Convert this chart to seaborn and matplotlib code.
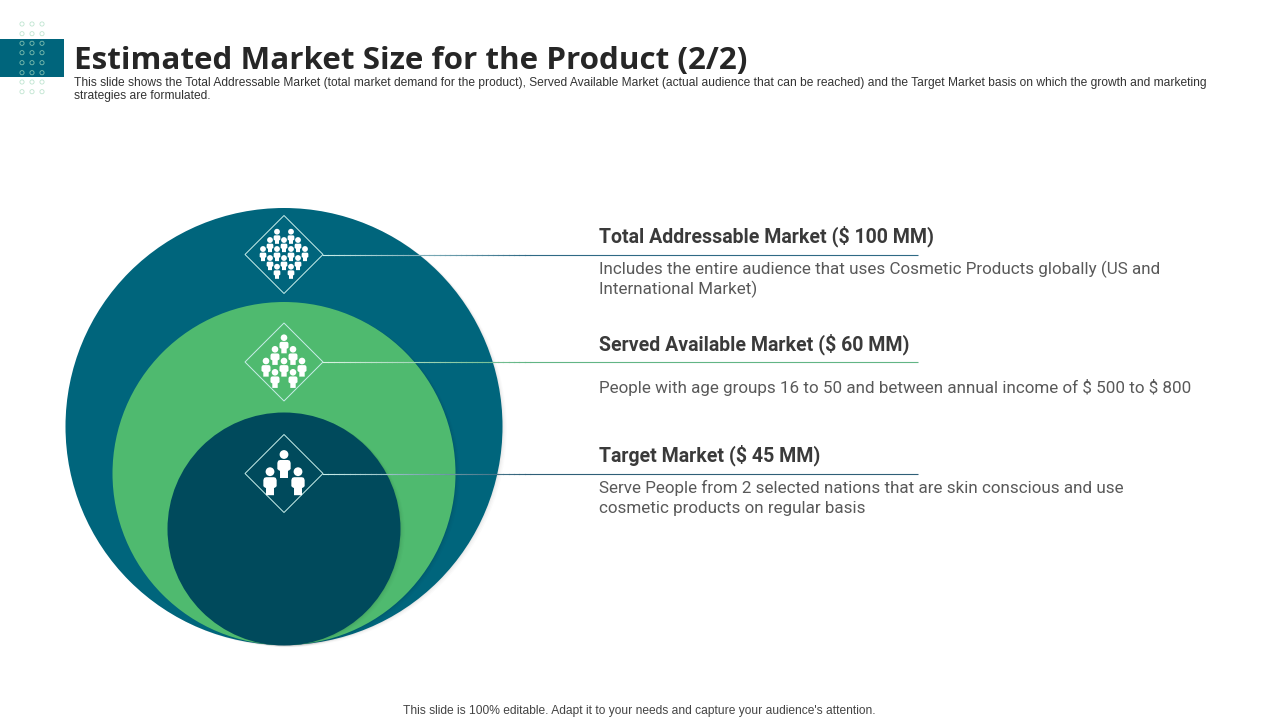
import matplotlib
matplotlib.use("Agg")
import matplotlib.pyplot as plt
from matplotlib.collections import LineCollection
from matplotlib.colors import to_rgb
from matplotlib.patches import Circle, Polygon, Rectangle
import numpy as np
import pandas as pd
import seaborn as sns

# ---- content ----
title_text = "Estimated Market Size for the Product (2/2)"
subtitle_lines = [
    "This slide shows the Total Addressable Market (total market demand for the product), Served Available Market (actual audience that can be reached) and the Target Market basis on which the growth and marketing",
    "strategies are formulated.",
]
footer_text = "This slide is 100% editable. Adapt it to your needs and capture your audience's attention."
market_names = ["Total Addressable Market", "Served Available Market", "Target Market"]
market_values = [100, 60, 45]
market_desc = [
    ["Includes the entire audience that uses Cosmetic Products globally (US and", "International Market)"],
    [r"People with age groups 16 to 50 and between annual income of \$ 500 to \$ 800"],
    ["Serve People from 2 selected nations that are skin conscious and use", "cosmetic products on regular basis"],
]

# ---- style ----
TEAL = "#00657c"
GREEN = "#4fba6f"
DARK = "#004a5c"
TEXT_DARK = "#262626"
TEXT_HEAD = "#3a3a3a"
TEXT_BODY = "#595959"

sns.set_theme(style="white")
plt.rcParams["font.family"] = ["Liberation Sans", "DejaVu Sans"]

fig = plt.figure(figsize=(12.8, 7.2), dpi=100, facecolor="white")
ax = fig.add_axes([0, 0, 1, 1])

# header decoration
ax.add_patch(Rectangle((0, 39), 64, 38, color=TEAL, lw=0, zorder=1))
dx, dy = np.meshgrid([22, 32, 42], [24, 33.7, 43.3, 52.7, 62.7, 72.7, 82, 91.7])
deco = pd.DataFrame({"x": dx.ravel(), "y": dy.ravel()})
sns.scatterplot(data=deco, x="x", y="y", ax=ax, s=9, facecolor="none",
                edgecolor="#a9dcc0", linewidth=0.6, alpha=0.75, zorder=2, legend=False)
ax.set_xlim(0, 1280)
ax.set_ylim(720, 0)
ax.axis("off")

# nested circles (soft shadow, then disc)
circles = [(284, 426.5, 218.5, TEAL), (284, 473.5, 171.5, GREEN), (284, 529, 116.5, DARK)]
for i, (cx, cy, r, c) in enumerate(circles):
    for k, a in zip((7, 5, 3, 1.5), (0.015, 0.02, 0.025, 0.03)):
        ax.add_patch(Circle((cx + k * 0.6, cy + k * 0.3), r, color="black", alpha=a, lw=0, zorder=3 + i * 2))
    ax.add_patch(Circle((cx, cy), r, color=c, lw=0, zorder=4 + i * 2))


def person(x, y, hr, w, h):
    """White pictogram: head at (x, y), body below."""
    ax.add_patch(Circle((x, y), hr, color="white", lw=0, zorder=12))
    top = y + hr * 1.25
    half = [(w * .30, 0), (w * .44, h * .04), (w * .5, h * .16), (w * .5, h * .5),
            (w * .38, h * .58), (w * .30, h * .6), (w * .30, h)]
    pts = [(x + a, top + b) for a, b in half] + [(x - a, top + b) for a, b in reversed(half)]
    ax.add_patch(Polygon(pts, closed=True, color="white", lw=0, zorder=12))


def gradient_rule(x0, x1, y, c0, c1, lw):
    xs = np.linspace(x0, x1, 40)
    segs = [[(a, y), (b, y)] for a, b in zip(xs[:-1], xs[1:])]
    t = np.linspace(0, 1, len(segs))[:, None]
    cols = (1 - t) * np.array(to_rgb(c0)) + t * np.array(to_rgb(c1))
    ax.add_collection(LineCollection(segs, colors=cols, linewidths=lw, zorder=11, capstyle="projecting"))


crowd_offsets = [
    [(-7, 231.7), (7, 231.7), (-14, 240), (0, 240), (14, 240), (-21, 249), (-7, 249), (7, 249), (21, 249),
     (-14, 258), (0, 258), (14, 258), (-7, 266.7), (7, 266.7)],
    [(0, 337.7), (-9, 349.3), (9, 349.3), (-18, 361), (0, 361), (18, 361), (-9, 372.3), (9, 372.3)],
    [(0, 454.5), (-14, 471.7), (14, 471.7)],
]
icon_sizes = [(2.9, 6.7, 8.5), (3.3, 9.0, 11.5), (4.4, 13.3, 18.0)]
anchors = [254.5, 362, 473.5]
rule_colors = ["#2f6a85", "#62b585", "#2f5f78"]
inner_colors = ["#c9eeea", "#d9f3e2", "#c9eeea"]
head_y = [236, 344, 455]
desc_y = [[269, 289], [387], [488, 508]]

for i, yc in enumerate(anchors):
    # diamond
    ax.add_patch(Polygon([(284, yc - 39), (323, yc), (284, yc + 39), (245, yc)], closed=True,
                         fill=False, edgecolor="#c9eeea", lw=0.7, zorder=11))
    # leader line
    gradient_rule(323, 530, yc, inner_colors[i], rule_colors[i], 0.8)
    ax.plot([530, 918], [yc, yc], color=rule_colors[i], lw=0.8, zorder=11, solid_capstyle="butt")
    for ox, hy in crowd_offsets[i]:
        person(284 + ox, hy, *icon_sizes[i])
    ax.text(599, head_y[i], rf"{market_names[i]} (\$ {market_values[i]} MM)", fontsize=14.05, fontweight="bold",
            family=["Roboto", "DejaVu Sans"], color=TEXT_HEAD, va="center", ha="left", zorder=13)
    for line, ly in zip(market_desc[i], desc_y[i]):
        ax.text(599, ly, line, fontsize=12.28, family=["Roboto", "DejaVu Sans"], color=TEXT_BODY,
                va="center", ha="left", zorder=13)

# header & footer text
ax.text(74, 68.5, title_text, fontsize=22.6, fontweight="bold", family=["Open Sans", "DejaVu Sans"],
        color=TEXT_DARK, va="baseline", ha="left")
for line, ly in zip(subtitle_lines, (82.7, 95.7)):
    ax.text(74, ly, line, fontsize=8.66, color="#333333", va="center", ha="left")
ax.text(639, 710.6, footer_text, fontsize=8.67, color="#444444", va="center", ha="center")

fig.savefig("out.png", dpi=100, facecolor="white")
